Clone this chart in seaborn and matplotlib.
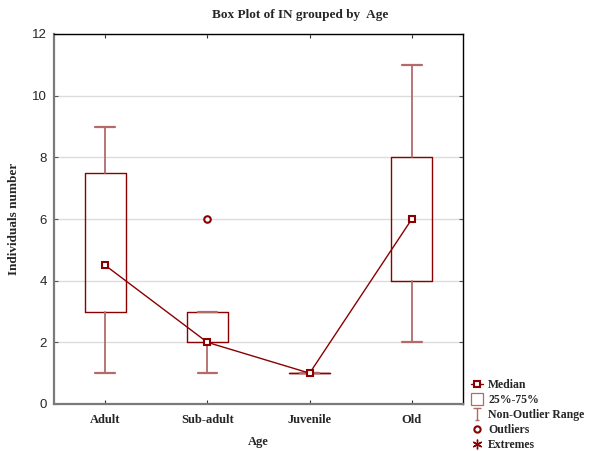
import numpy as np
import matplotlib
matplotlib.use("Agg")
import matplotlib.pyplot as plt
import seaborn as sns
from matplotlib.lines import Line2D
from matplotlib.path import Path

# Summary statistics of IN for each age class
ages = ["Adult", "Sub-adult", "Juvenile", "Old"]
medians = [4.5, 2.0, 1.0, 6.0]
q1 = [3.0, 2.0, 1.0, 4.0]
q3 = [7.5, 3.0, 1.0, 8.0]
whisker_low = [1.0, 1.0, 1.0, 2.0]
whisker_high = [9.0, 3.0, 1.0, 11.0]
outliers = [[], [6.0], [], []]
y_ticks = [0, 2, 4, 6, 8, 10, 12]

RED = "#8b0000"
SOFT_RED = "#b36a6a"

sns.set_style("white")
plt.rcParams["font.family"] = ["Liberation Serif", "DejaVu Serif"]

fig = plt.figure(figsize=(5.89, 4.51), dpi=100)
ax = fig.add_axes([54 / 589, 47 / 451, 409 / 589, 370 / 451])

pos = np.arange(len(ages))
stats = [
    dict(med=m, q1=a, q3=b, whislo=lo, whishi=hi, fliers=[])
    for m, a, b, lo, hi in zip(medians, q1, q3, whisker_low, whisker_high)
]
ax.bxp(
    stats, positions=pos, widths=0.4, capwidths=0.19, showfliers=False,
    manage_ticks=False, patch_artist=False,
    boxprops=dict(color=RED, lw=1.0),
    whiskerprops=dict(color=SOFT_RED, lw=1.3),
    capprops=dict(color=SOFT_RED, lw=1.6),
    medianprops=dict(visible=False),
)

# Medians joined by a line
sns.lineplot(x=pos, y=medians, ax=ax, color=RED, lw=1.0, marker="s",
             markersize=4.5, markerfacecolor="white", markeredgecolor=RED,
             markeredgewidth=1.5, zorder=4)

# Outlying points
out_x = [p for p, vals in zip(pos, outliers) for _ in vals]
out_y = [v for vals in outliers for v in vals]
sns.scatterplot(x=out_x, y=out_y, ax=ax, marker="o", s=22, facecolor="white",
                edgecolor=RED, linewidth=1.5, zorder=4)

ax.set_xlim(-0.5, 3.5)
ax.set_ylim(0, 12)
ax.set_xticks(pos)
ax.set_xticklabels(ages, fontsize=9, fontweight="bold")
ax.set_yticks(y_ticks)
ax.set_yticklabels([str(t) for t in y_ticks], fontsize=9.5, family="Liberation Sans")

ax.yaxis.grid(True, color="#dcdcdc", lw=1.0)
ax.xaxis.grid(False)
ax.set_axisbelow(True)

for side in ("left", "bottom"):
    ax.spines[side].set_color("#7a7a7a")
    ax.spines[side].set_linewidth(1.6)
for side in ("top", "right"):
    ax.spines[side].set_color("black")
    ax.spines[side].set_linewidth(1.0)

ax.tick_params(axis="y", which="both", direction="in", length=3, width=0.8,
               left=True, right=True, color="#555555", pad=5)
ax.tick_params(axis="x", which="both", direction="in", length=3, width=0.8,
               bottom=True, top=True, color="#333333", pad=7)

ax.set_xlabel("Age", fontsize=9, fontweight="bold")
ax.set_ylabel("Individuals number", fontsize=9.5, fontweight="bold")
ax.xaxis.set_label_coords(0.5, -0.086)
ax.yaxis.set_label_coords(-0.082, 0.5)

fig.text(300 / 589, 1 - 15 / 451, "Box Plot of IN grouped by  Age",
         ha="center", va="center", fontsize=9.5, fontweight="bold")

# Legend symbols
whisker_path = Path(
    [(-0.6, 1.0), (0.6, 1.0), (0.0, 1.0), (0.0, -1.0), (-0.35, -1.0), (0.35, -1.0)],
    [Path.MOVETO, Path.LINETO, Path.MOVETO, Path.LINETO, Path.MOVETO, Path.LINETO],
)
handles = [
    Line2D([], [], color=RED, lw=1.0, marker="s", markersize=4.5,
           markerfacecolor="white", markeredgecolor=RED, markeredgewidth=1.5),
    Line2D([], [], ls="none", marker="s", markersize=9, markerfacecolor="none",
           markeredgecolor=SOFT_RED, markeredgewidth=0.9),
    Line2D([], [], ls="none", marker=whisker_path, markersize=9,
           markerfacecolor="none", markeredgecolor=SOFT_RED, markeredgewidth=1.0),
    Line2D([], [], ls="none", marker="o", markersize=4.5, markerfacecolor="white",
           markeredgecolor=RED, markeredgewidth=1.5),
    Line2D([], [], ls="none", marker=(6, 2, 0), markersize=7,
           markeredgecolor=RED, markeredgewidth=1.0),
]
labels = ["Median", "25%-75%", "Non-Outlier Range", "Outliers", "Extremes"]
fig.legend(handles, labels, loc="upper left",
           bbox_to_anchor=(471 / 589, 1 - 379.5 / 451), frameon=False,
           prop=dict(family="Liberation Serif", weight="bold", size=8.5),
           handlelength=1.05, handletextpad=0.4, labelspacing=0.24,
           borderpad=0, borderaxespad=0)

fig.savefig("out.png", dpi=100)
